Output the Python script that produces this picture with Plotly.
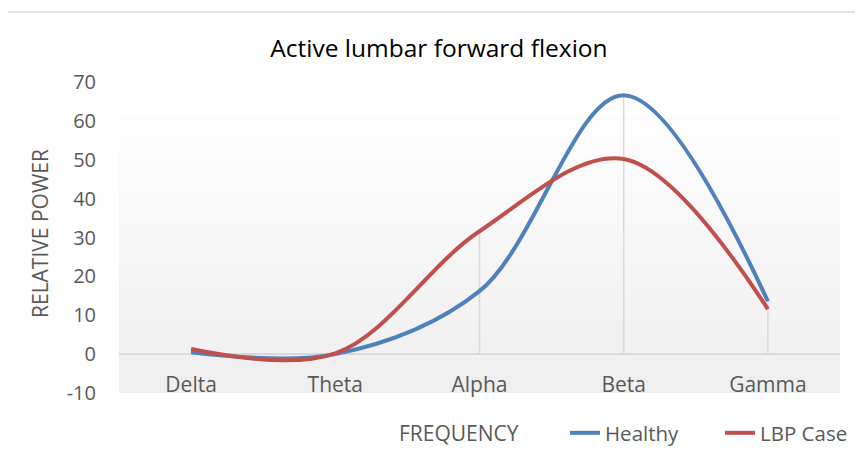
import plotly.graph_objects as go

categories = ["Delta", "Theta", "Alpha", "Beta", "Gamma"]
healthy = [0.5, 0.0, 16.2, 66.6, 13.6]
lbp_case = [1.3, 0.2, 31.6, 50.2, 11.6]
y_ticks = [-10, 0, 10, 20, 30, 40, 50, 60, 70]
y_tick_labels = ["-10", "0", "10", "20", "30", "40", "50", "60", "70"]

FONT = "Open Sans"
GRAY = "#595959"
OFF = 8  # page body margin offset

fig = go.Figure()

# drop lines from 0 to the highest value at each category
dx, dy = [], []
for c, h, l in zip(categories, healthy, lbp_case):
    dx += [c, c, None]
    dy += [0, max(h, l), None]
fig.add_trace(go.Scatter(x=dx, y=dy, mode="lines", line=dict(color="#d9d9d9", width=1.5),
                         showlegend=False, hoverinfo="skip"))

fig.add_trace(go.Scatter(x=categories, y=healthy, name="Healthy", mode="lines",
                         line=dict(color="#4f81bd", width=4, shape="spline", smoothing=1.0)))
fig.add_trace(go.Scatter(x=categories, y=lbp_case, name="LBP Case", mode="lines",
                         line=dict(color="#c0504d", width=4, shape="spline", smoothing=1.0)))

# gradient plot background as bands
shapes = []
n = 30
top = 0.887
for i in range(n):
    f0 = top * i / n
    f1 = top * (i + 1) / n
    t = i / (n - 1)
    v = int(round(0xef + (0xfd - 0xef) * t))
    col = f"rgb({v},{v},{v})"
    shapes.append(dict(type="rect", xref="paper", yref="paper", x0=0, x1=1, y0=f0, y1=f1 + 0.002,
                       fillcolor=col, line=dict(width=0), layer="below"))
# outer chart border (partially visible)
shapes.append(dict(type="rect", xref="paper", yref="paper",
                   x0=-113 / 721, x1=1.2, y0=-2, y1=(393 - 12) / 311,
                   line=dict(color="#d9d9d9", width=1.5), fillcolor="rgba(0,0,0,0)", layer="below"))

fig.update_layout(
    width=863, height=459,
    margin=dict(l=119 - OFF, r=23 + OFF, t=82 - OFF, b=66 + OFF, autoexpand=False),
    paper_bgcolor="white", plot_bgcolor="rgba(0,0,0,0)",
    title=dict(text="Active lumbar forward flexion", x=(439 - 119) / 721, xref="paper",
               xanchor="center", y=1 - (48 - OFF) / 459, yanchor="middle",
               font=dict(family=FONT, size=24.5, color="#000000")),
    font=dict(family=FONT, color=GRAY),
    shapes=shapes,
    showlegend=True,
    legend=dict(orientation="h", x=(565 - 119) / 721, xanchor="left", y=(393 - 433) / 311,
                yanchor="middle", font=dict(family=FONT, size=20.5, color=GRAY),
                bgcolor="rgba(0,0,0,0)", entrywidth=110, tracegroupgap=0),
    annotations=[dict(text="FREQUENCY", xref="paper", yref="paper", x=(459 - 119) / 721,
                      y=(393 - 433) / 311, xanchor="center", yanchor="middle", showarrow=False,
                      font=dict(family=FONT, size=21, color=GRAY))],
    xaxis=dict(range=[-0.5, 4.5], showgrid=False, zeroline=False, showline=False, ticks="",
               anchor="free", position=0.075, automargin=False,
               tickfont=dict(family=FONT, size=21, color=GRAY)),
    yaxis=dict(range=[-10, 70], tickvals=y_ticks, ticktext=y_tick_labels, showgrid=False,
               zeroline=True, automargin=False,
               zerolinecolor="#d9d9d9", zerolinewidth=2, showline=False, ticks="",
               ticklabelstandoff=22,
               tickfont=dict(family=FONT, size=20, color=GRAY)),
)
fig.add_annotation(text="RELATIVE POWER", xref="paper", yref="paper", x=(40 - 119) / 721,
                   y=(393 - 234) / 311, xanchor="center", yanchor="middle", textangle=-90,
                   showarrow=False, font=dict(family=FONT, size=21, color=GRAY))

fig.write_html("out.html")
